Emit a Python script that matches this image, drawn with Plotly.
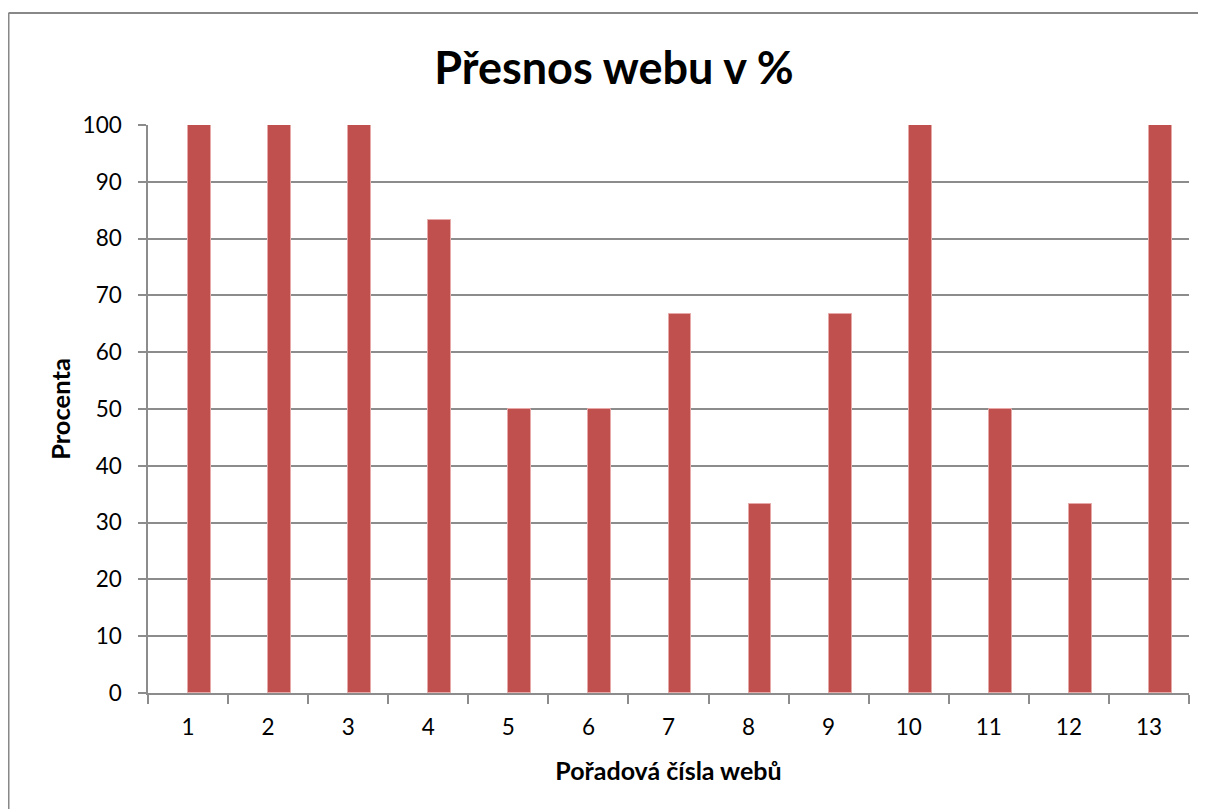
import plotly.graph_objects as go

categories = [str(i) for i in range(1, 14)]
values = [100, 100, 100, 83.33, 50, 50, 66.67, 33.33, 66.67, 100, 50, 33.33, 100]
y_ticks = list(range(0, 101, 10))

title_text = "Přesnos webu v %"
x_title = "Pořadová čísla webů"
y_title = "Procenta"

FONT = "Lato, Open Sans, sans-serif"
GRID = "#8c8c8c"

fig = go.Figure()
fig.add_trace(go.Bar(
    x=categories, y=values,
    width=1 / 3.5, offset=0,
    marker=dict(color="#C0504D", line=dict(color="#E6A9A7", width=1)),
    showlegend=False,
))

# page body has an 8px margin; figure coordinates are screen - 8
OFF = 8
W, H = 1198, 801
L, R, T, B = 148 - OFF, 1189 - OFF, 125 - OFF, 693 - OFF
pw, ph = R - L, B - T

fig.update_layout(
    width=W, height=H,
    margin=dict(l=L, r=W - R, t=T, b=H - B, pad=0),
    paper_bgcolor="white", plot_bgcolor="white",
    font=dict(family=FONT, color="black"),
    title=dict(text=f"<b>{title_text}</b>", x=(614 - OFF) / W, xanchor="center",
               y=1 - (68 - OFF) / H, yanchor="middle",
               font=dict(size=45, family=FONT, color="black")),
    bargap=0,
)
fig.update_xaxes(
    type="category", tickson="boundaries",
    ticks="outside", ticklen=9, tickcolor=GRID, tickwidth=1.5,
    showline=True, linecolor=GRID, linewidth=1.5,
    showgrid=False,
    ticklabelstandoff=13,
    tickfont=dict(size=22.5, family=FONT),
    title=dict(text=f"<b>{x_title}</b>", font=dict(size=25, family=FONT), standoff=24),
)
fig.update_yaxes(
    range=[0, 100], tickvals=y_ticks,
    ticks="outside", ticklen=8, tickcolor=GRID, tickwidth=1.5,
    showline=True, linecolor=GRID, linewidth=1.5,
    showgrid=True, gridcolor=GRID, gridwidth=1.5,
    zeroline=False,
    ticklabelstandoff=12,
    tickfont=dict(size=22.5, family=FONT),
    title=dict(text=f"<b>{y_title}</b>", font=dict(size=25.5, family=FONT), standoff=5),
)
# chart border (left and top edges visible)
bx = (8.5 - OFF - L) / pw
by = (B - (13 - OFF)) / ph
fig.add_shape(type="line", xref="paper", yref="paper",
              x0=bx, x1=bx, y0=-1, y1=by,
              line=dict(color="#888888", width=2), layer="below")
fig.add_shape(type="line", xref="paper", yref="paper",
              x0=bx, x1=2, y0=by, y1=by,
              line=dict(color="#888888", width=2), layer="below")

fig.write_html("out.html")
